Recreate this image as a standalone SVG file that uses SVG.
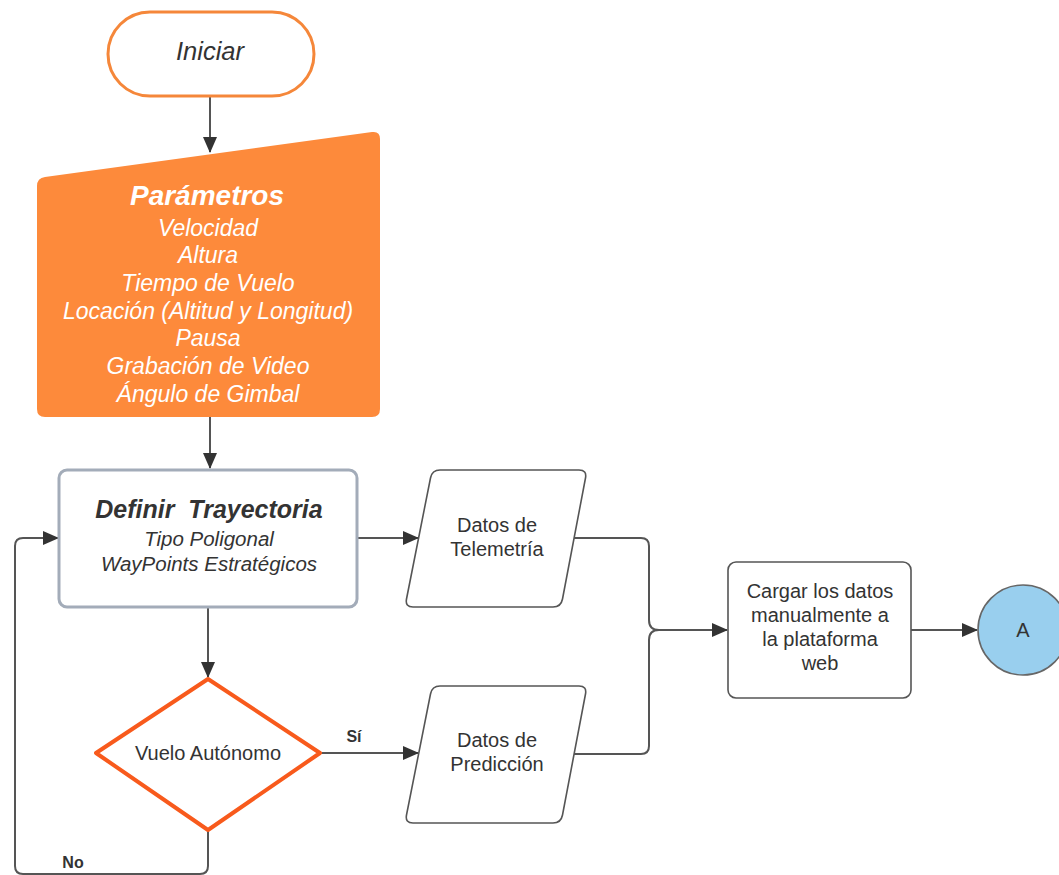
<svg xmlns="http://www.w3.org/2000/svg" width="1059" height="875" viewBox="0 0 1059 875">
<style>
text{font-family:"Liberation Sans",Arial,sans-serif;fill:#333;text-anchor:middle}
.w{fill:#fff;font-style:italic}
.it{font-style:italic}
.b{font-weight:bold}
.n{font-size:20px}
.con{fill:none;stroke:#555;stroke-width:2}
.box{fill:#fff;stroke:#555;stroke-width:1.6}
</style>
<defs>
<marker id="ah" markerUnits="userSpaceOnUse" markerWidth="16" markerHeight="14" refX="15" refY="7" orient="auto">
<path d="M0,0 L16,7 L0,14 Z" fill="#333"/>
</marker>
</defs>
<rect width="1059" height="875" fill="#fff"/>
<g id="connectors">
<path class="con" d="M210,97 V152" marker-end="url(#ah)"/>
<path class="con" d="M210,417 V468" marker-end="url(#ah)"/>
<path class="con" d="M208,607 V677" marker-end="url(#ah)"/>
<path class="con" d="M357,538 H418" marker-end="url(#ah)"/>
<path class="con" d="M320,753 H418" marker-end="url(#ah)"/>
<path class="con" d="M208,830 V866 Q208,874 200,874 H23 Q15,874 15,866 V546 Q15,538 23,538 H58" marker-end="url(#ah)"/>
<path class="con" d="M574,538 H641 Q649,538 649,546 V620 Q649,630 659,630"/>
<path class="con" d="M571,754 H641 Q649,754 649,746 V640 Q649,630 659,630"/>
<path class="con" d="M659,630 H727" marker-end="url(#ah)"/>
<path class="con" d="M911,630 H977" marker-end="url(#ah)"/>
<text x="354" y="742" class="b" font-size="16">Sí</text>
<text x="73" y="868" class="b" font-size="16">No</text>
</g>
<g id="iniciar">
<rect x="108" y="12" width="206" height="84" rx="42" fill="#fff" stroke="#f5873a" stroke-width="3"/>
<text x="210" y="60" class="it" font-size="25.5">Iniciar</text>
</g>
<g id="parametros">
<path d="M37,186 Q37,178 45,176.9 L372,132.1 Q380,131 380,139 V409 Q380,417 372,417 H45 Q37,417 37,409 Z" fill="#fd8a3b"/>
<text x="207" y="205" class="w b" font-size="28">Parámetros</text>
<text x="208" y="236" class="w" font-size="23">Velocidad</text>
<text x="208" y="263" class="w" font-size="23">Altura</text>
<text x="208" y="291" class="w" font-size="23">Tiempo de Vuelo</text>
<text x="208" y="319" class="w" font-size="23">Locación (Altitud y Longitud)</text>
<text x="208" y="346" class="w" font-size="23">Pausa</text>
<text x="208" y="374" class="w" font-size="23">Grabación de Video</text>
<text x="208" y="402" class="w" font-size="23">Ángulo de Gimbal</text>
</g>
<g id="definir">
<rect x="59" y="470" width="298" height="137" rx="8" fill="#fff" stroke="#a3acb9" stroke-width="3"/>
<text x="209" y="518" class="it b" font-size="25">Definir&#160; Trayectoria</text>
<text x="209" y="546" class="it" font-size="20.5">Tipo Poligonal</text>
<text x="209" y="571" class="it" font-size="20.5">WayPoints Estratégicos</text>
</g>
<g id="telemetria">
<path class="box" d="M440,470 L579,470 Q587,470 585.5,478 L562.5,599 Q561,607 553,607 L413,607 Q405,607 406.5,599 L430.5,478 Q432,470 440,470 Z"/>
<text x="497" y="532" class="n">Datos de</text>
<text x="497" y="556" class="n">Telemetría</text>
</g>
<g id="autonomo">
<path d="M208,679 L320,753 L208,830 L96,753 Z" fill="#fff" stroke="#f85a1c" stroke-width="4" stroke-linejoin="round"/>
<text x="208" y="760" class="n">Vuelo Autónomo</text>
</g>
<g id="prediccion">
<path class="box" d="M440,686 L579,686 Q587,686 585.5,694 L562.5,815 Q561,823 553,823 L413,823 Q405,823 406.5,815 L430.5,694 Q432,686 440,686 Z"/>
<text x="497" y="747" class="n">Datos de</text>
<text x="497" y="771" class="n">Predicción</text>
</g>
<g id="cargar">
<rect class="box" x="728" y="562" width="183" height="136" rx="8"/>
<text x="820" y="598" class="n">Cargar los datos</text>
<text x="820" y="622" class="n">manualmente a</text>
<text x="820" y="646" class="n">la plataforma</text>
<text x="820" y="670" class="n">web</text>
</g>
<g id="conectorA">
<circle cx="1023" cy="630" r="45" fill="#99cfee" stroke="#666" stroke-width="1.6"/>
<text x="1023" y="637" class="n">A</text>
</g>
</svg>
